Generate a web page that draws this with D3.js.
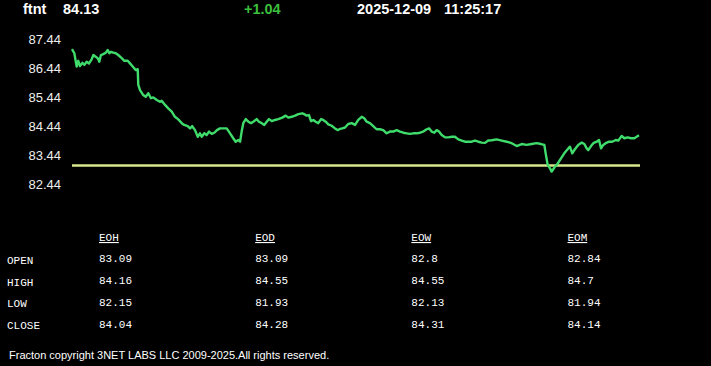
<!DOCTYPE html>
<html>
<head>
<meta charset="utf-8">
<script src="https://cdn.jsdelivr.net/npm/d3@7"></script>
<style>
html,body{margin:0;padding:0;background:#000;}
svg{display:block;}
</style>
</head>
<body>
<svg id="chart" width="711" height="366"></svg>
<script>
// ---- data ----
const symbol = "ftnt";
const lastPrice = "84.13";
const change = "+1.04";
const dateStr = "2025-12-09";
const timeStr = "11:25:17";
const prevClose = 83.09;
const yTicks = [87.44, 86.44, 85.44, 84.44, 83.44, 82.44];

// minutes into session
const times = [0,1.6,3.2,4.3,5.5,7.1,8.5,10.1,11.7,13.5,14.7,16.3,17.7,18.8,19.9,21.5,23.2,24.6,25.7,26.8,28.4,30.1,31.8,34.2,36.0,38.3,39.9,42.2,43.8,45.2,45.6,46.8,49.0,50.7,52.5,54.3,55.9,58.3,60.5,61.7,64.0,66.2,68.6,70.8,73.1,75.5,77.2,79.6,81.2,82.7,84.6,86.5,88.0,89.2,91.0,92.6,94.2,96.1,97.9,
99.7,101.8,104.1,106.4,108.7,110.9,112.6,114.4,115.6,116.7,117.8,119.5,121.3,123.1,124.7,127.0,128.6,130.5,132.3,133.9,135.5,137.4,139.6,141.9,144.6,147.0,148.8,151.1,153.4,155.7,158.4,159.8,161.4,163.0,164.4,166.0,167.6,169.4,171.3,172.8,174.5,176.3,178.6,180.9,182.7,184.3,185.9,187.8,190.0,192.4,
194.7,196.9,199.3,201.0,202.7,204.9,207.2,209.5,211.8,214.1,216.4,218.7,221.0,223.3,225.6,227.9,230.2,232.5,234.8,237.1,239.4,241.6,244.0,245.6,247.4,249.2,250.8,252.4,254.3,256.6,258.8,261.2,263.4,265.7,268.0,270.3,272.6,274.9,277.2,279.5,281.8,284.1,286.3,288.7,
292.1,295.6,299.0,302.4,305.9,309.3,312.7,316.2,319.6,322.6,324.9,325.8,327.2,328.8,329.9,331.0,332.2,333.4,334.9,336.8,338.6,340.9,342.5,344.1,345.9,348.2,350.6,352.4,354.0,355.1,357.0,358.6,360.9,362.5,363.9,365.4,367.1,369.4,371.6,374.0,375.8,378.1,379.9,382.2,384.5,386.8,388.4,390];
const prices = [87.10,86.96,86.50,86.70,86.52,86.63,86.56,86.67,86.61,86.75,86.90,86.84,86.79,86.67,86.90,86.93,86.98,87.07,86.96,87.01,86.98,86.96,86.90,86.79,86.70,86.70,86.61,86.48,86.38,86.41,85.87,85.69,85.52,85.46,85.58,85.41,85.44,85.35,85.29,85.32,85.18,85.06,84.95,84.77,84.68,84.55,84.49,84.45,84.37,84.45,84.31,84.08,84.20,84.08,84.20,84.14,84.26,84.18,84.22,
84.31,84.37,84.37,84.37,84.20,84.03,83.91,83.97,83.91,84.26,84.55,84.69,84.60,84.55,84.60,84.69,84.60,84.55,84.49,84.60,84.69,84.62,84.66,84.69,84.74,84.81,84.74,84.77,84.81,84.86,84.89,84.86,84.81,84.83,84.62,84.66,84.60,84.55,84.69,84.66,84.60,84.51,84.46,84.37,84.31,84.35,84.37,84.40,84.52,84.55,
84.49,84.66,84.77,84.72,84.60,84.55,84.45,84.34,84.34,84.31,84.20,84.26,84.26,84.31,84.26,84.22,84.20,84.18,84.20,84.20,84.22,84.26,84.34,84.37,84.26,84.22,84.31,84.26,84.14,84.06,84.06,84.08,84.08,83.99,83.95,83.91,83.91,83.91,83.95,83.91,83.88,83.87,83.95,83.96,
83.99,83.95,83.91,83.86,83.76,83.83,83.80,83.83,83.86,83.83,83.80,83.51,83.11,82.99,82.88,82.96,83.05,83.11,83.22,83.37,83.51,83.65,83.74,83.51,83.65,83.80,83.88,83.83,83.68,83.62,83.76,83.86,83.91,83.97,83.68,83.80,83.86,83.91,83.91,83.97,83.95,84.11,84.03,84.06,84.03,84.03,84.08,84.13];

const periods = ["EOH", "EOD", "EOW", "EOM"];
const rowLabels = ["OPEN", "HIGH", "LOW", "CLOSE"];
const openVals  = ["83.09", "83.09", "82.8", "82.84"];
const highVals  = ["84.16", "84.55", "84.55", "84.7"];
const lowVals   = ["82.15", "81.93", "82.13", "81.94"];
const closeVals = ["84.04", "84.28", "84.31", "84.14"];
const footer = "Fracton copyright 3NET LABS LLC 2009-2025.All rights reserved.";

// ---- drawing ----
const svg = d3.select("#chart");
svg.append("rect").attr("width", 711).attr("height", 366).attr("fill", "#000");

// header
const hdr = svg.append("g").attr("font-family", "Liberation Sans, Arial, sans-serif")
  .attr("font-weight", "bold").attr("font-size", 14.5);
hdr.append("text").attr("x", 23).attr("y", 14).attr("fill", "#fff").text(symbol);
hdr.append("text").attr("x", 63).attr("y", 14).attr("fill", "#fff").text(lastPrice);
hdr.append("text").attr("x", 244).attr("y", 14).attr("fill", "#3cbf3c").text(change);
hdr.append("text").attr("x", 357).attr("y", 14).attr("fill", "#fff").text(dateStr);
hdr.append("text").attr("x", 444).attr("y", 14).attr("fill", "#fff").text(timeStr);

// scales
const x = d3.scaleLinear().domain([0, 390]).range([72, 639]);
const y = d3.scaleLinear().domain([82.44, 87.44]).range([184.35, 39.35]);

// y axis
const yAxis = d3.axisLeft(y).tickValues(yTicks).tickSize(0).tickPadding(0)
  .tickFormat(d3.format(".2f"));
const ag = svg.append("g").attr("transform", "translate(61,0)").call(yAxis);
ag.select(".domain").remove();
ag.selectAll("text").attr("fill", "#eee").attr("font-size", 13)
  .attr("font-family", "Liberation Sans, Arial, sans-serif");

// previous close line
svg.append("line")
  .attr("x1", x(0)).attr("x2", x(390) + 1)
  .attr("y1", y(prevClose)).attr("y2", y(prevClose))
  .attr("stroke", "#d6e88c").attr("stroke-width", 2.5);

// price line
const pts = times.map((t, i) => [t, prices[i]]);
svg.append("path").datum(pts)
  .attr("fill", "none").attr("stroke", "#3fdc6c").attr("stroke-width", 2.4)
  .attr("stroke-linejoin", "round")
  .attr("d", d3.line().x(d => x(d[0])).y(d => y(d[1])));

// table
const colX = d3.scalePoint().domain(periods).range([99, 567.5]);
const rowY = d3.scalePoint().domain(rowLabels).range([262, 327.5]);
const tbl = svg.append("g").attr("font-family", "Liberation Mono, DejaVu Sans Mono, monospace")
  .attr("font-size", 11).attr("fill", "#fff");
tbl.selectAll("text.hdr").data(periods).join("text").attr("class", "hdr")
  .attr("x", d => colX(d)).attr("y", 241)
  .attr("text-decoration", "underline").text(d => d);
tbl.selectAll("text.row").data(rowLabels).join("text").attr("class", "row")
  .attr("x", 7).attr("y", d => rowY(d) + 1.8).text(d => d);
const rows = [openVals, highVals, lowVals, closeVals];
rows.forEach((vals, ri) => {
  tbl.selectAll("text.v" + ri).data(vals).join("text").attr("class", "v" + ri)
    .attr("x", (d, i) => colX(periods[i])).attr("y", rowY(rowLabels[ri])).text(d => d);
});

// footer
svg.append("text").attr("x", 9).attr("y", 359)
  .attr("font-family", "Liberation Sans, Arial, sans-serif").attr("font-size", 11)
  .attr("fill", "#fff").text(footer);
</script>
</body>
</html>
